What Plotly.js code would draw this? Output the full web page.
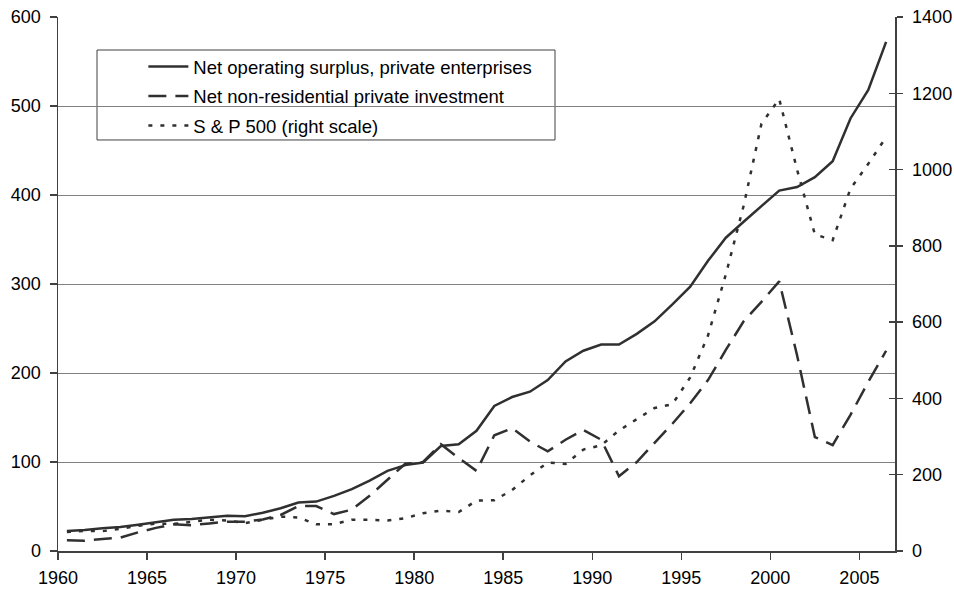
<!DOCTYPE html>
<html>
<head>
<meta charset="utf-8">
<script src="https://cdn.plot.ly/plotly-3.0.1.min.js"></script>
<style>html,body{margin:0;padding:0;background:#fff;}#chart{width:954px;height:590px;}</style>
</head>
<body>
<div id="chart"></div>
<script>
// Years (points are drawn in the middle of each year band)
const years = [1960,1961,1962,1963,1964,1965,1966,1967,1968,1969,
  1970,1971,1972,1973,1974,1975,1976,1977,1978,1979,
  1980,1981,1982,1983,1984,1985,1986,1987,1988,1989,
  1990,1991,1992,1993,1994,1995,1996,1997,1998,1999,
  2000,2001,2002,2003,2004,2005,2006];

// Net operating surplus, private enterprises (left scale)
const surplus = [22.5,23.5,25.5,27,29.5,32.5,35,36,38,39.5,
  39,43,48,54.5,55.5,62,69.5,79,90,96.5,
  99.5,118,120,135,163,173,179,192,213,225,
  232,232,244,258,277,297,326,352,370,387,
  405,409,420,438,486,518,572];

// Net non-residential private investment (left scale)
const investment = [12,11.5,13.5,15,21,26,30,29,31,33,
  33,35.5,40.5,50.5,50.5,41.5,46.5,62,80,98,
  100,120,104.5,90,130,138,123,112,125,136,
  125,84,100,121,143,166,192,226,258,280,
  303,220,128,119,153,190,225];

// S & P 500 (right scale)
const sp500 = [50,53,52,58,66,72,71,77,82,80,
  73,82,90,88,70,70,82,82,80,86,
  99,106,102,132,133,160,198,232,228,266,
  277,316,345,375,385,455,565,725,905,1120,
  1185,1000,830,815,950,1015,1085];

const names = ["Net operating surplus, private enterprises",
  "Net non-residential private investment",
  "S & P 500 (right scale)"];

const xTicks = [1960,1965,1970,1975,1980,1985,1990,1995,2000,2005];
const leftTicks = [0,100,200,300,400,500,600];
const rightTicks = [0,200,400,600,800,1000,1200,1400];

const xMid = years.map(y => y + 0.5);
const lineColor = "#303030";
const FONT = "Liberation Sans, Arial, sans-serif";

const traces = [
  {x: xMid, y: surplus, name: names[0], legendgroup: "a", type: "scatter", mode: "lines",
   line: {color: lineColor, width: 2.5}, xaxis: "x", yaxis: "y"},
  {x: xMid, y: investment, name: names[1], legendgroup: "b", type: "scatter", mode: "lines",
   line: {color: lineColor, width: 2.5, dash: "18px,9px"}, xaxis: "x", yaxis: "y"},
  {x: xMid, y: sp500, name: names[2], legendgroup: "c", type: "scatter", mode: "lines",
   line: {color: lineColor, width: 2.5, dash: "4px,8px"}, xaxis: "x", yaxis: "y2"}
];

const layout = {
  width: 954, height: 590,
  margin: {l: 58, r: 59, t: 17, b: 39, pad: 0},
  paper_bgcolor: "#fff", plot_bgcolor: "#fff",
  font: {family: FONT, size: 18, color: "#000"},
  showlegend: true,
  legend: {
    x: 0.102, y: 0.942, xanchor: "left", yanchor: "top",
    bgcolor: "rgba(0,0,0,0)", borderwidth: 0,
    font: {family: FONT, size: 18.5, color: "#000"},
    itemwidth: 40, tracegroupgap: 2.5
  },
  xaxis: {
    range: [1960, 2007], tickvals: xTicks, ticktext: xTicks.map(String),
    showgrid: false, zeroline: false,
    showline: true, linecolor: "#404040", linewidth: 1.5,
    ticks: "outside", ticklen: 7, tickcolor: "#404040", tickwidth: 1.5,
    ticklabelstandoff: 3, fixedrange: true
  },
  yaxis: {
    range: [0, 600], tickvals: leftTicks, ticktext: leftTicks.map(String),
    showgrid: true, gridcolor: "#808080", gridwidth: 1,
    zeroline: false, showline: true, linecolor: "#404040", linewidth: 1.5,
    ticks: "outside", ticklen: 7, tickcolor: "#404040", tickwidth: 1.5,
    ticklabelstandoff: 5, fixedrange: true
  },
  yaxis2: {
    range: [0, 1400], tickvals: rightTicks, ticktext: rightTicks.map(String),
    overlaying: "y", side: "right", anchor: "x",
    showgrid: false, zeroline: false, showline: true, linecolor: "#404040", linewidth: 1.5,
    ticks: "outside", ticklen: 6, tickcolor: "#404040", tickwidth: 1.5,
    ticklabelstandoff: 6, fixedrange: true
  },
  yaxis3: {
    range: [0, 1400], tickvals: rightTicks, showticklabels: false,
    overlaying: "y", side: "right", anchor: "x",
    showgrid: false, zeroline: false, showline: false,
    ticks: "inside", ticklen: 6, tickcolor: "#404040", tickwidth: 1.5,
    fixedrange: true
  },
  shapes: [{
    type: "rect", xref: "paper", yref: "paper",
    x0: 0.0466, x1: 0.5938, y0: 0.7697, y1: 0.9382,
    line: {color: "#404040", width: 1}, fillcolor: "#ffffff", layer: "between"
  }]
};

// invisible helper trace that activates the tick-only overlay axis
traces.push({x: [xMid[0]], y: [0], xaxis: "x", yaxis: "y3", type: "scatter",
  mode: "markers", marker: {opacity: 0}, showlegend: false, hoverinfo: "skip"});

Plotly.newPlot("chart", traces, layout, {displayModeBar: false, staticPlot: true});
</script>
</body>
</html>
